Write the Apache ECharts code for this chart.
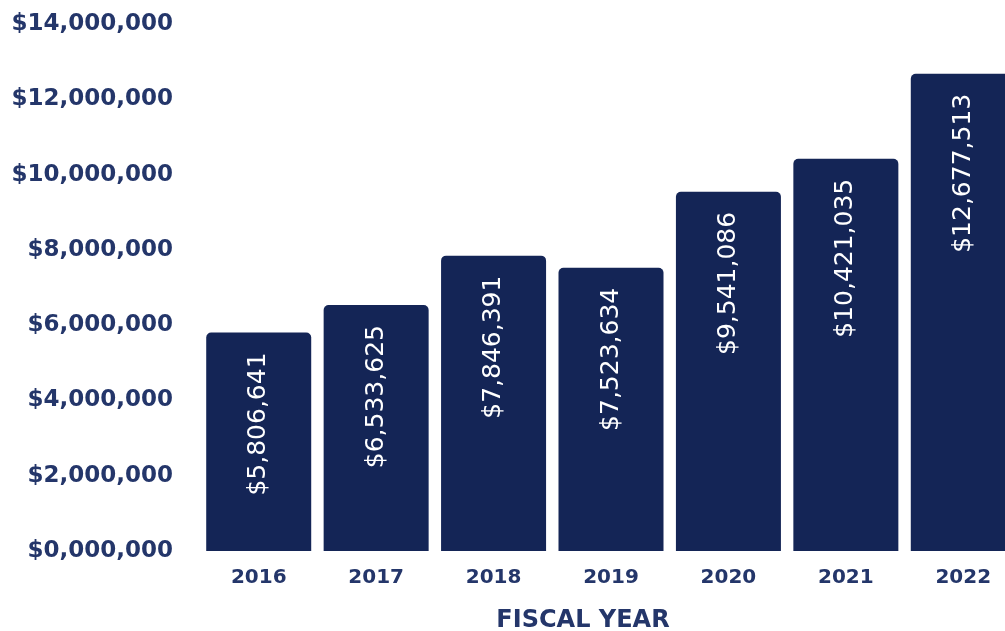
<!DOCTYPE html>
<html>
<head>
<meta charset="utf-8">
<script src="https://cdn.jsdelivr.net/npm/echarts@6/dist/echarts.min.js"></script>
<style>
html,body{margin:0;padding:0;background:#fff;}
#chart{width:1005px;height:631px;}
</style>
</head>
<body>
<div id="chart"></div>
<script>
const years = ['2016','2017','2018','2019','2020','2021','2022'];
const funding = [5806641, 6533625, 7846391, 7523634, 9541086, 10421035, 12677513];
const yTickLabels = ['$0,000,000','$2,000,000','$4,000,000','$6,000,000','$8,000,000','$10,000,000','$12,000,000','$14,000,000'];

const textColor = '#24366a';
const barColor = '#142556';
const font = 'DejaVu Sans';

const chart = echarts.init(document.getElementById('chart'));
chart.setOption({
  animation: false,
  grid: { left: 200, width: 822, top: 24, bottom: 80, outerBoundsMode: 'none', containLabel: false },
  xAxis: {
    type: 'category',
    data: years,
    axisLine: { show: false },
    axisTick: { show: false },
    axisLabel: { color: textColor, fontFamily: font, fontWeight: 'bold', fontSize: 20, margin: 17 },
    name: 'FISCAL YEAR',
    nameLocation: 'middle',
    nameGap: 58,
    nameTextStyle: { color: textColor, fontFamily: font, fontWeight: 'bold', fontSize: 24, padding: [0, 56, 0, 0] }
  },
  yAxis: {
    type: 'value',
    min: 0,
    max: 14000000,
    interval: 2000000,
    splitLine: { show: false },
    axisLine: { show: false },
    axisTick: { show: false },
    axisLabel: {
      color: textColor, fontFamily: font, fontWeight: 'bold', fontSize: 23, margin: 27,
      formatter: function (v) { return yTickLabels[Math.round(v / 2000000)]; }
    }
  },
  series: [{
    type: 'bar',
    data: funding,
    barWidth: 105,
    itemStyle: { color: barColor, borderRadius: [5, 5, 0, 0] },
    label: {
      show: true,
      position: 'insideTop',
      rotate: 90,
      align: 'right',
      verticalAlign: 'middle',
      distance: 20,
      color: '#ffffff',
      fontFamily: font,
      fontSize: 25,
      formatter: function (p) { return '$' + p.value.toLocaleString('en-US'); }
    }
  }]
});
</script>
</body>
</html>
